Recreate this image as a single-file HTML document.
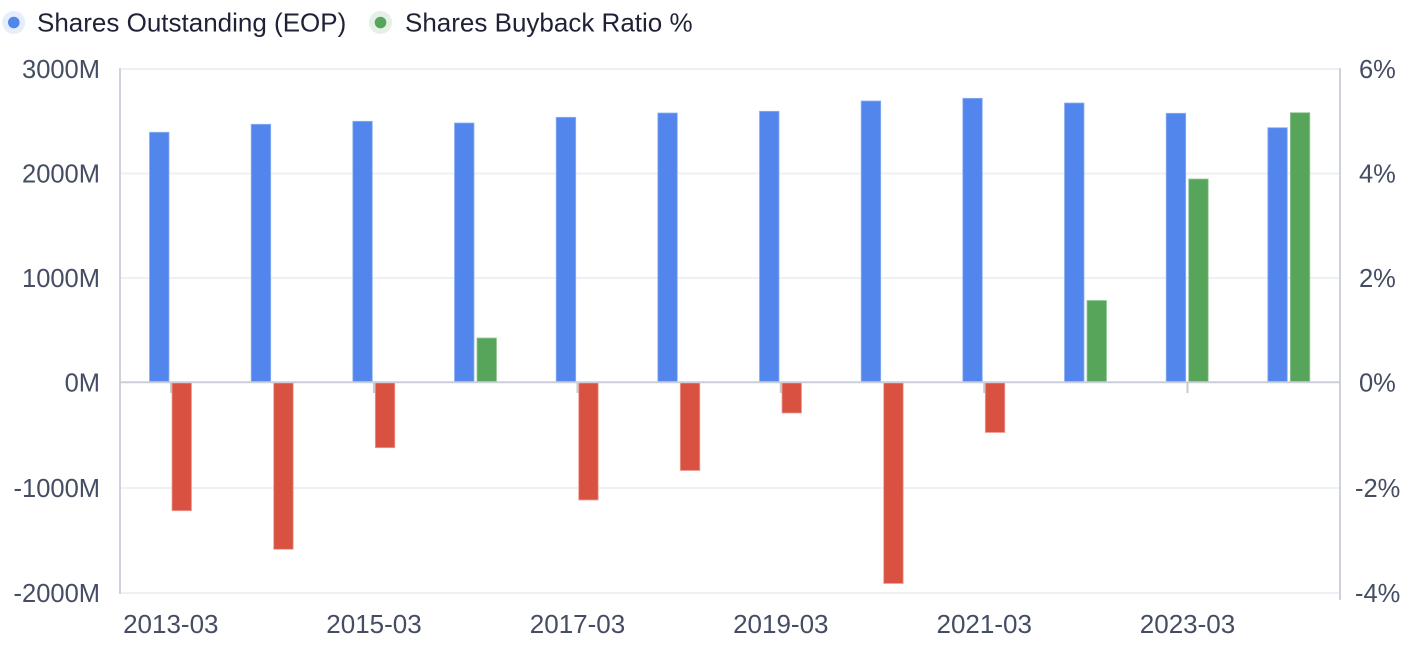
<!DOCTYPE html>
<html>
<head>
<meta charset="utf-8">
<style>
  html, body { margin: 0; padding: 0; background: #ffffff; }
  body { width: 1426px; height: 647px; overflow: hidden; }
  svg { display: block; }
  text { font-family: "Liberation Sans", Arial, Helvetica, sans-serif; }
</style>
</head>
<body>
<svg width="1426" height="647" viewBox="0 0 1426 647" xmlns="http://www.w3.org/2000/svg">
  <rect x="0" y="0" width="1426" height="647" fill="#ffffff"/>

  <!-- Legend -->
  <circle cx="13.8" cy="22.5" r="11.5" fill="#e6edfb"/>
  <circle cx="13.8" cy="22.5" r="5.8" fill="#5386ec"/>
  <text x="37" y="31.5" font-size="26" fill="#1f2236">Shares Outstanding (EOP)</text>
  <circle cx="380.5" cy="22.5" r="11.5" fill="#e5f1e6"/>
  <circle cx="380.5" cy="22.5" r="5.8" fill="#57a55a"/>
  <text x="405" y="31.5" font-size="26" fill="#1f2236">Shares Buyback Ratio %</text>

  <!-- Gridlines -->
  <g stroke="#edf0f4" stroke-width="2">
    <line x1="120" y1="69" x2="1340" y2="69"/>
    <line x1="120" y1="173.5" x2="1340" y2="173.5"/>
    <line x1="120" y1="278" x2="1340" y2="278"/>
    <line x1="120" y1="488" x2="1340" y2="488"/>
    <line x1="120" y1="593" x2="1340" y2="593"/>
  </g>

  <!-- Axis lines -->
  <g stroke="#cdd2db" stroke-width="2">
    <line x1="120" y1="68" x2="120" y2="594"/>
    <line x1="1340" y1="68" x2="1340" y2="600"/>
  </g>

  <!-- Ticks at labeled categories -->
  <g stroke="#c6cad3" stroke-width="2">
    <line x1="171" y1="382" x2="171" y2="393"/>
    <line x1="374" y1="382" x2="374" y2="393"/>
    <line x1="577.5" y1="382" x2="577.5" y2="393"/>
    <line x1="780.8" y1="382" x2="780.8" y2="393"/>
    <line x1="984.2" y1="382" x2="984.2" y2="393"/>
    <line x1="1187.5" y1="382" x2="1187.5" y2="393"/>
  </g>

  <!-- Blue bars: Shares Outstanding -->
  <g fill="#5386ec" stroke="#8fb0f3" stroke-width="0.8">
    <rect x="149.5" y="132.3" width="19.5" height="250"/>
    <rect x="251.2" y="124.3" width="19.5" height="258"/>
    <rect x="352.8" y="121.3" width="19.5" height="261"/>
    <rect x="454.5" y="123" width="19.5" height="259.3"/>
    <rect x="556.2" y="117.3" width="19.5" height="265"/>
    <rect x="657.8" y="113" width="19.5" height="269.3"/>
    <rect x="759.5" y="111.3" width="19.5" height="271"/>
    <rect x="861.2" y="101" width="19.5" height="281.3"/>
    <rect x="962.8" y="98.3" width="19.5" height="284"/>
    <rect x="1064.5" y="103" width="19.5" height="279.3"/>
    <rect x="1166.2" y="113.3" width="19.5" height="269"/>
    <rect x="1267.8" y="127.7" width="19.5" height="254.6"/>
  </g>

  <!-- Red bars (negative buyback ratio) -->
  <g fill="#d95241" stroke="#eba097" stroke-width="0.8">
    <rect x="172" y="382.3" width="19.5" height="128.4"/>
    <rect x="273.7" y="382.3" width="19.5" height="167"/>
    <rect x="375.3" y="382.3" width="19.5" height="65.4"/>
    <rect x="578.7" y="382.3" width="19.5" height="117.7"/>
    <rect x="680.3" y="382.3" width="19.5" height="88.2"/>
    <rect x="782" y="382.3" width="19.5" height="30.7"/>
    <rect x="883.7" y="382.3" width="19.5" height="201.2"/>
    <rect x="985.3" y="382.3" width="19.5" height="50.2"/>
  </g>

  <!-- Green bars (positive buyback ratio) -->
  <g fill="#57a55a" stroke="#95c897" stroke-width="0.8">
    <rect x="477" y="338" width="19.5" height="44.3"/>
    <rect x="1087" y="300.5" width="19.5" height="81.8"/>
    <rect x="1188.7" y="179" width="19.5" height="203.3"/>
    <rect x="1290.3" y="112.7" width="19.5" height="269.6"/>
  </g>

  <!-- Zero axis line -->
  <line x1="120" y1="382.3" x2="1340" y2="382.3" stroke="#c9ced8" stroke-width="2"/>

  <!-- Left Y labels -->
  <g font-size="25.5" fill="#454d63" text-anchor="end">
    <text x="100" y="78">3000M</text>
    <text x="100" y="182.5">2000M</text>
    <text x="100" y="287">1000M</text>
    <text x="100" y="391.3">0M</text>
    <text x="100" y="497">-1000M</text>
    <text x="100" y="602">-2000M</text>
  </g>

  <!-- Right Y labels -->
  <g font-size="25.5" fill="#454d63" text-anchor="start">
    <text x="1359" y="78">6%</text>
    <text x="1359" y="182.5">4%</text>
    <text x="1359" y="287">2%</text>
    <text x="1359" y="391.3">0%</text>
    <text x="1355" y="497">-2%</text>
    <text x="1355" y="602">-4%</text>
  </g>

  <!-- X labels -->
  <g font-size="26" fill="#454d63" text-anchor="middle">
    <text x="170.8" y="633">2013-03</text>
    <text x="374" y="633">2015-03</text>
    <text x="577.5" y="633">2017-03</text>
    <text x="780.8" y="633">2019-03</text>
    <text x="984.2" y="633">2021-03</text>
    <text x="1187.5" y="633">2023-03</text>
  </g>
</svg>
</body>
</html>
